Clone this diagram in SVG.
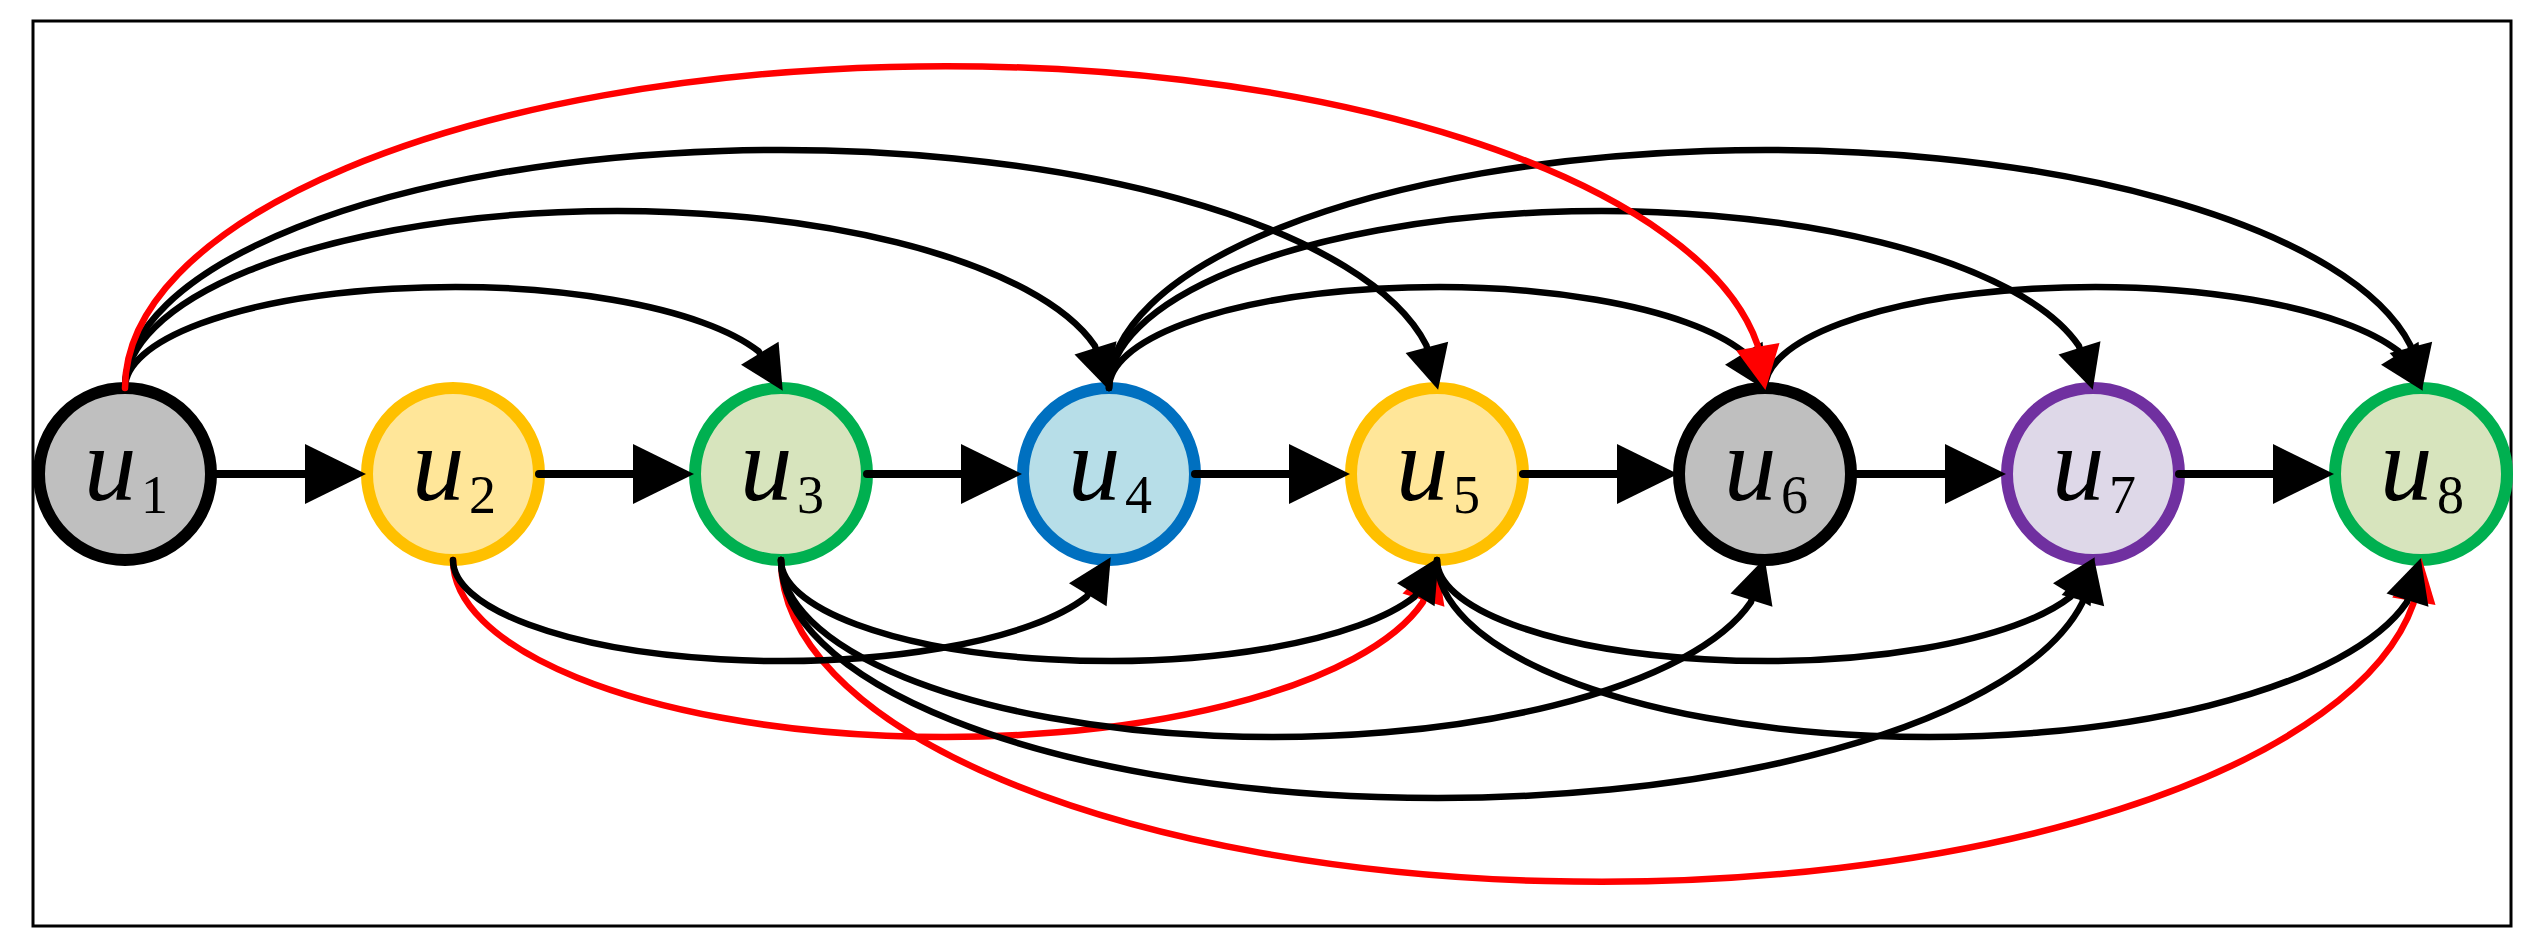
<svg xmlns="http://www.w3.org/2000/svg" width="2546" height="952" viewBox="0 0 2546 952">
<style>
.frame{fill:none;stroke:#000;stroke-width:3}
.node{stroke-width:12}
.gray{fill:#bfbfbf;stroke:#000}
.yellow{fill:#ffe699;stroke:#ffc000}
.green{fill:#d7e4bd;stroke:#00b050}
.blue{fill:#b7dee8;stroke:#0070c0}
.purple{fill:#ded8e8;stroke:#7030a0}
.lbl{font-family:"Liberation Serif","DejaVu Serif",serif;font-style:italic;font-size:105px;fill:#000}
.sub{font-family:"Liberation Serif","DejaVu Serif",serif;font-size:54px;fill:#000}
.h{fill:none;stroke:#000;stroke-width:8;stroke-linecap:round;marker-end:url(#bigArrow)}
.c{fill:none;stroke:#000;stroke-width:6.5;stroke-linecap:round;marker-end:url(#arrow)}
.r{fill:none;stroke:#ff0000;stroke-width:6.5;stroke-linecap:round;marker-end:url(#arrowRed)}
</style>
<defs>
<marker id="bigArrow" markerUnits="userSpaceOnUse" markerWidth="70" markerHeight="70" refX="0" refY="0" orient="auto" overflow="visible"><path d="M0,-30 L61,0 L0,30 z" fill="#000"/></marker>
<marker id="arrow" markerUnits="userSpaceOnUse" markerWidth="50" markerHeight="50" refX="0" refY="0" orient="auto" overflow="visible"><path d="M0,-22 L44,0 L0,22 z" fill="#000"/></marker>
<marker id="arrowRed" markerUnits="userSpaceOnUse" markerWidth="50" markerHeight="50" refX="0" refY="0" orient="auto" overflow="visible"><path d="M0,-22 L44,0 L0,22 z" fill="#ff0000"/></marker>
</defs>
<rect class="frame" x="33" y="21" width="2478" height="905"/>
<g id="n1"><circle class="node gray" cx="125" cy="474" r="86"/><text class="lbl" x="84" y="500">u</text><text class="sub" x="141" y="513">1</text></g>
<g id="n2"><circle class="node yellow" cx="453" cy="474" r="86"/><text class="lbl" x="412" y="500">u</text><text class="sub" x="469" y="513">2</text></g>
<g id="n3"><circle class="node green" cx="781" cy="474" r="86"/><text class="lbl" x="740" y="500">u</text><text class="sub" x="797" y="513">3</text></g>
<g id="n4"><circle class="node blue" cx="1109" cy="474" r="86"/><text class="lbl" x="1068" y="500">u</text><text class="sub" x="1125" y="513">4</text></g>
<g id="n5"><circle class="node yellow" cx="1437" cy="474" r="86"/><text class="lbl" x="1396" y="500">u</text><text class="sub" x="1453" y="513">5</text></g>
<g id="n6"><circle class="node gray" cx="1765" cy="474" r="86"/><text class="lbl" x="1724" y="500">u</text><text class="sub" x="1781" y="513">6</text></g>
<g id="n7"><circle class="node purple" cx="2093" cy="474" r="86"/><text class="lbl" x="2052" y="500">u</text><text class="sub" x="2109" y="513">7</text></g>
<g id="n8"><circle class="node green" cx="2421" cy="474" r="86"/><text class="lbl" x="2380" y="500">u</text><text class="sub" x="2437" y="513">8</text></g>
<g id="edges">
<path class="h" d="M211,474 H305"/>
<path class="h" d="M539,474 H633"/>
<path class="h" d="M867,474 H961"/>
<path class="h" d="M1195,474 H1289"/>
<path class="h" d="M1523,474 H1617"/>
<path class="h" d="M1851,474 H1945"/>
<path class="h" d="M2179,474 H2273"/>
<path class="r" d="M453,560 A492,177 0 0 0 1422.9,602.1 l0.6,-1.9"/>
<path class="r" d="M781,560 A820,322 0 0 0 2413.5,603.3 l0.35,-2"/>
<path class="c" d="M125,388 A328,101 0 0 1 758.7,351.4 l1.1,1.8"/>
<path class="c" d="M125,388 A492,177 0 0 1 1094.9,345.9 l0.6,1.9"/>
<path class="c" d="M125,388 A656,238 0 0 1 1426.4,345.4 l0.5,1.9"/>
<path class="c" d="M1109,388 A328,101 0 0 1 1742.7,351.4 l1.1,1.8"/>
<path class="c" d="M1109,388 A492,177 0 0 1 2078.9,345.9 l0.6,1.9"/>
<path class="c" d="M1109,388 A656,238 0 0 1 2410.4,345.4 l0.5,1.9"/>
<path class="c" d="M1765,388 A328,101 0 0 1 2398.7,351.4 l1.1,1.8"/>
<path class="c" d="M453,560 A328,101 0 0 0 1086.7,596.6 l1.1,-1.8"/>
<path class="c" d="M781,560 A328,101 0 0 0 1414.7,596.6 l1.1,-1.8"/>
<path class="c" d="M781,560 A492,177 0 0 0 1750.9,602.1 l0.6,-1.9"/>
<path class="c" d="M781,560 A656,238 0 0 0 2082.4,602.6 l0.5,-1.9"/>
<path class="c" d="M1437,560 A328,101 0 0 0 2070.7,596.6 l1.1,-1.8"/>
<path class="c" d="M1437,560 A492,177 0 0 0 2406.9,602.1 l0.6,-1.9"/>
<path class="r" d="M125,388 A820,322 0 0 1 1757.5,344.7 l0.35,2"/>
</g>
</svg>
